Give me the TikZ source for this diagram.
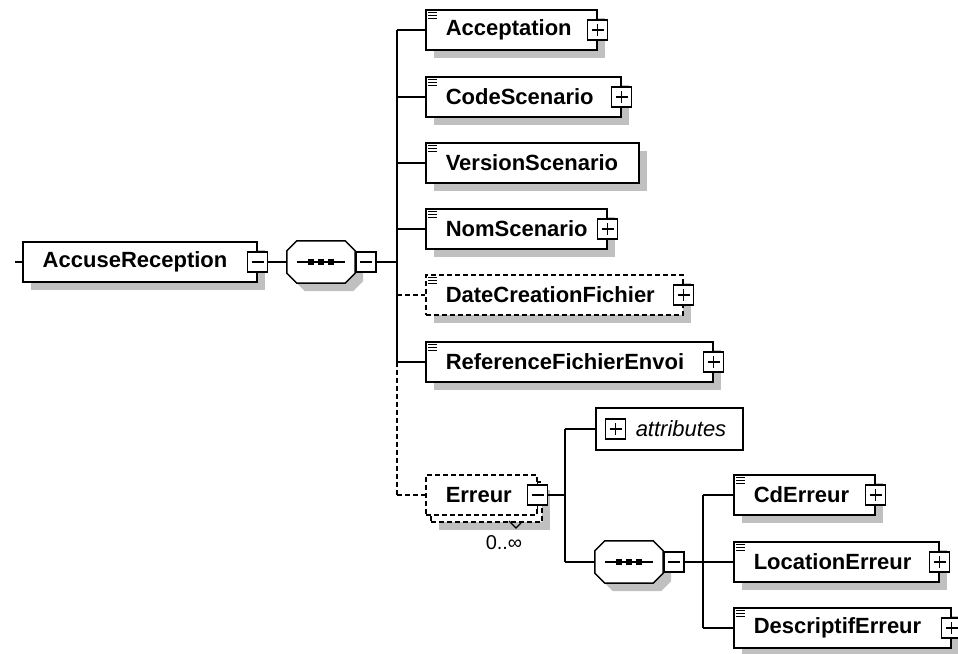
\documentclass[tikz,border=0pt]{standalone}
\usepackage{fontspec}
\setmainfont{Liberation Sans}
\usetikzlibrary{shadows}
\definecolor{shadowgray}{RGB}{192,192,192}
\newcommand{\elemfont}{\fontsize{22}{26}\selectfont\bfseries}

\tikzset{
  boxshadow/.style={drop shadow={shadow xshift=8pt, shadow yshift=-8pt, fill=shadowgray, opacity=1}},
  conn/.style={line width=1.5pt},
  optconn/.style={conn, dash pattern=on 5pt off 3pt},
  elembase/.style={draw, fill=white, line width=1.5pt, anchor=west, minimum height=40pt,
    inner sep=0pt, align=left, font=\elemfont, execute at begin node=\hspace*{20pt}},
  elem/.style={elembase, text width=#1, boxshadow},
  optelem/.style={elem=#1, dash pattern=on 5pt off 3pt},
  multelem/.style={elembase, text width=#1, dash pattern=on 5pt off 3pt},
  plusbox/.style={draw, fill=white, line width=1.5pt, minimum size=20pt, inner sep=0pt,
    path picture={\draw[line width=1.5pt] ([xshift=4pt]path picture bounding box.west) -- ([xshift=-4pt]path picture bounding box.east)
      ([yshift=-4pt]path picture bounding box.north) -- ([yshift=4pt]path picture bounding box.south);}},
  minusbox/.style={draw, fill=white, line width=1.5pt, minimum size=20pt, inner sep=0pt,
    path picture={\draw[line width=1.5pt] ([xshift=4pt]path picture bounding box.west) -- ([xshift=-4pt]path picture bounding box.east);}},
  seqbox/.style={minimum width=68pt, minimum height=42pt, inner sep=0pt}
}

\begin{document}
\begin{tikzpicture}[x=1pt, y=-1pt]
\useasboundingbox (0,0) rectangle (958,653);

% root element
\node[elem=234pt] (root) at (22,262) {AccuseReception};
\node[minusbox] (root-m) at (root.east) {};
\coordinate (in) at (15,262);

% sequences
\node[seqbox] (seq) at (321,262) {};
\node[seqbox] (seq2) at (629,562) {};
\foreach \s in {seq,seq2} {
  \draw[line width=1.5pt, fill=white, boxshadow] ([xshift=10pt]\s.north west) -- ([xshift=-10pt]\s.north east)
    -- ([yshift=-10pt]\s.north east) -- ([yshift=10pt]\s.south east) -- ([xshift=-10pt]\s.south east)
    -- ([xshift=10pt]\s.south west) -- ([yshift=10pt]\s.south west) -- ([yshift=-10pt]\s.north west) -- cycle;
  \draw[line width=1.5pt] ([xshift=10pt]\s.west) -- ([xshift=-10pt]\s.east);
  \foreach \dx in {-10,0,10}
    \fill ([xshift=\dx pt]\s.center) +(-3pt,-3pt) rectangle +(3pt,3pt);
  \node[minusbox, anchor=west] (\s-m) at (\s.east) {};
}

% children of the first sequence
\node[elem=171pt] (acc) at (425,30) {Acceptation};
\node[elem=195pt] (code) at (425,97) {CodeScenario};
\node[elem=213pt] (vers) at (425,163) {VersionScenario};
\node[elem=181pt] (nom) at (425,229) {NomScenario};
\node[optelem=257pt] (date) at (425,295) {DateCreationFichier};
\node[elem=287pt] (ref) at (425,362) {ReferenceFichierEnvoi};
\foreach \n in {acc,code,nom,date,ref}
  \node[plusbox] (\n-p) at (\n.east) {};

% Erreur, repeated
\node[multelem=111pt, boxshadow] (err-b) at (430,502) {};
\node[multelem=111pt] (err) at (425,495) {Erreur};
\node[minusbox] (err-m) at (err.east) {};
\draw[line width=1.2pt] (err-m.north) -- +(0,-4);
\draw[line width=1.2pt] (err-m.south) -- +(0,6);
\draw[line width=1.1pt] (509,521) -- (516,528) -- (521,523);
\node[font=\fontsize{20}{24}\selectfont] (err-mult) at (504,543) {0..∞};

% attributes and children of the second sequence
\node[draw, fill=white, line width=1.5pt, anchor=west, minimum height=42pt, inner sep=0pt,
  text width=147pt, align=left, font=\fontsize{22}{26}\selectfont\itshape,
  execute at begin node=\hspace*{40pt}] (att) at (595,429) {attributes};
\node[plusbox] (att-p) at ([xshift=20.5pt]att.west) {};
\node[elem=141pt] (cd) at (733,495) {CdErreur};
\node[elem=205pt] (loc) at (733,562) {LocationErreur};
\node[elem=217pt] (desc) at (733,628) {DescriptifErreur};
\foreach \n in {cd,loc,desc}
  \node[plusbox] (\n-p) at (\n.east) {};

% element icons
\foreach \n in {acc,code,vers,nom,date,ref,cd,loc,desc}
  \foreach \k in {0,1,2}
    \draw[line width=1.2pt] ([xshift=3pt,yshift=-3.5pt-\k*2.8pt]\n.north west) -- +(9pt,0);

% connectors
\coordinate (bus) at (397,0);
\coordinate (ebus) at (565,0);
\coordinate (cbus) at (703,0);
\draw[conn] (in) -- (root.west);
\draw[conn] (root-m.east) -- (seq.west);
\draw[conn] (seq-m.east) -- (bus |- seq-m.east);
\draw[conn] (bus |- acc.west) -- (bus |- ref.west);
\draw[optconn] (bus |- ref.west) -- (bus |- err.west);
\foreach \n in {acc,code,vers,nom,ref}
  \draw[conn] (bus |- \n.west) -- (\n.west);
\draw[optconn] (bus |- date.west) -- (date.west);
\draw[optconn] (bus |- err.west) -- (err.west);
\draw[conn] (err-m.east) -- (ebus |- err-m.east);
\draw[conn] (ebus |- att.west) -- (ebus |- seq2.west);
\draw[conn] (ebus |- att.west) -- (att.west);
\draw[conn] (ebus |- seq2.west) -- (seq2.west);
\draw[conn] (seq2-m.east) -- (cbus |- seq2-m.east);
\draw[conn] (cbus |- cd.west) -- (cbus |- desc.west);
\foreach \n in {cd,loc,desc}
  \draw[conn] (cbus |- \n.west) -- (\n.west);
\end{tikzpicture}
\end{document}
